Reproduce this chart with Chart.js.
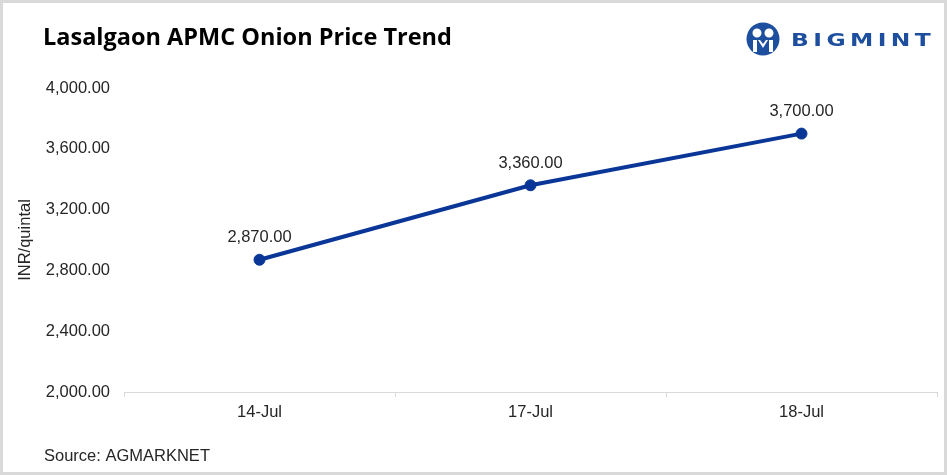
<!DOCTYPE html>
<html>
<head>
<meta charset="utf-8">
<script src="https://cdn.jsdelivr.net/npm/chart.js@4.4.0/dist/chart.umd.min.js"></script>
<style>
  html, body { margin: 0; padding: 0; background: #fff; }
  #wrap { width: 947px; height: 475px; position: relative; }
</style>
</head>
<body>
<div id="wrap"><canvas id="chartPrecio" width="947" height="475"></canvas></div>
<script>
// datos del grafico
const fechas = ['14-Jul', '17-Jul', '18-Jul'];
const precios = [2870, 3360, 3700];
const ejeMin = 2000;
const ejeMax = 4000;
const ejePaso = 400;

const titulo = 'Lasalgaon APMC Onion Price Trend';
const fuente = 'Source: AGMARKNET';
const azul = '#0a3797';
const letra = '"Liberation Sans", Arial, sans-serif';

function fmt(v) {
    return v.toLocaleString('en-US', { minimumFractionDigits: 2, maximumFractionDigits: 2 });
}

// textos, logo, etiquetas y marco
const decoracion = {
    id: 'decoracion',
    afterDatasetsDraw(chart) {
        const ctx = chart.ctx;
        const meta = chart.getDatasetMeta(0);
        ctx.save();
        ctx.fillStyle = '#262626';
        ctx.font = '16.5px ' + letra;
        ctx.textAlign = 'center';
        ctx.textBaseline = 'middle';
        meta.data.forEach((p, i) => {
            ctx.fillText(fmt(precios[i]), p.x, p.y - 22);
        });
        ctx.restore();
    },
    afterDraw(chart) {
        const ctx = chart.ctx;
        ctx.save();
        // titulo
        ctx.fillStyle = '#000';
        ctx.font = 'bold 23.5px "Open Sans", sans-serif';
        ctx.textAlign = 'left';
        ctx.textBaseline = 'middle';
        ctx.fillText(titulo, 43, 38);

        // fuente
        ctx.fillStyle = '#262626';
        ctx.font = '16.5px ' + letra;
        ctx.fillText(fuente, 44, 456);

        // logo BIGMINT
        const cx = 763, cy = 39;
        ctx.fillStyle = '#1d4f9e';
        ctx.beginPath();
        ctx.arc(cx, cy, 16.5, 0, Math.PI * 2);
        ctx.fill();
        ctx.fillStyle = '#fff';
        ctx.beginPath();
        ctx.arc(cx - 6, cy - 6, 4.5, 0, Math.PI * 2);
        ctx.arc(cx + 6, cy - 6, 4.5, 0, Math.PI * 2);
        ctx.fill();
        ctx.fillRect(cx - 10, cy + 1, 4, 12);
        ctx.fillRect(cx + 6, cy + 1, 4, 12);
        ctx.beginPath();
        ctx.moveTo(cx - 5, cy + 1);
        ctx.lineTo(cx, cy + 9);
        ctx.lineTo(cx + 5, cy + 1);
        ctx.lineTo(cx + 3, cy + 1);
        ctx.lineTo(cx, cy + 5);
        ctx.lineTo(cx - 3, cy + 1);
        ctx.closePath();
        ctx.fill();

        ctx.fillStyle = '#1d4f9e';
        ctx.font = 'bold 18px "DejaVu Sans", sans-serif';
        ctx.translate(791, 41);
        ctx.scale(1.3, 1);
        ctx.letterSpacing = '3.4px';
        ctx.fillText('BIGMINT', 0, 0);
        ctx.letterSpacing = '0px';
        ctx.setTransform(1, 0, 0, 1, 0, 0);

        // marco
        ctx.strokeStyle = '#d9d9d9';
        ctx.lineWidth = 3;
        ctx.strokeRect(1.5, 1.5, chart.width - 3, chart.height - 3);
        ctx.restore();
    }
};

const ctxPrecio = document.getElementById('chartPrecio');
const chartPrecio = new Chart(ctxPrecio, {
    type: 'line',
    data: {
        labels: fechas,
        datasets: [{
            label: 'Precio',
            data: precios,
            borderColor: azul,
            backgroundColor: azul,
            borderWidth: 4,
            pointRadius: 5.5,
            pointBorderWidth: 1,
            pointBackgroundColor: azul,
            pointBorderColor: azul,
            tension: 0
        }]
    },
    options: {
        responsive: false,
        animation: false,
        devicePixelRatio: 1,
        layout: {
            padding: { left: 0, top: 88, right: 10, bottom: 43 }
        },
        plugins: {
            legend: { display: false },
            tooltip: { enabled: false }
        },
        scales: {
            x: {
                offset: true,
                grid: {
                    offset: true,
                    drawOnChartArea: false,
                    drawTicks: true,
                    tickLength: 5,
                    color: '#d9d9d9'
                },
                border: { color: '#d9d9d9', width: 1 },
                ticks: {
                    color: '#262626',
                    padding: 6,
                    font: { family: letra, size: 16.5 }
                },
                afterFit(scale) { scale.height = 40; }
            },
            y: {
                min: ejeMin,
                max: ejeMax,
                grid: { display: false },
                border: { display: false },
                ticks: {
                    stepSize: ejePaso,
                    color: '#262626',
                    padding: 6,
                    font: { family: letra, size: 16.5 },
                    callback: v => fmt(v)
                },
                title: {
                    display: true,
                    text: 'INR/quintal',
                    color: '#262626',
                    padding: { top: 16, bottom: 0 },
                    font: { family: letra, size: 16.5 }
                },
                afterFit(scale) { scale.width = 124; }
            }
        }
    },
    plugins: [decoracion]
});
</script>
</body>
</html>
